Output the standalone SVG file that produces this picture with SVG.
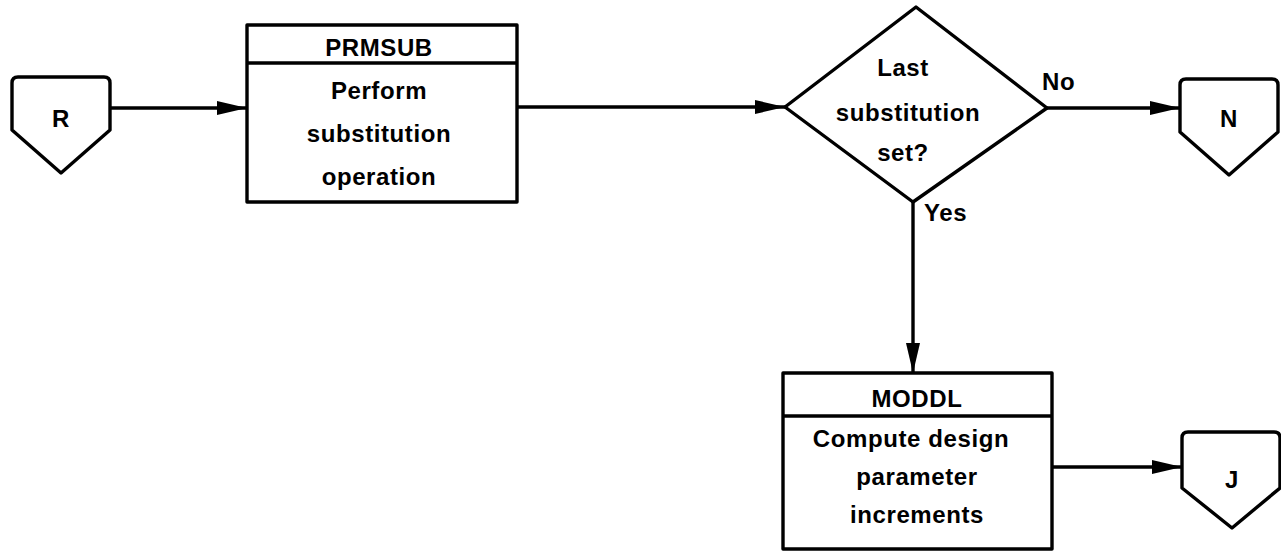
<svg xmlns="http://www.w3.org/2000/svg" width="1281" height="553" viewBox="0 0 1281 553">
<style>
.shape{fill:#fff;stroke:#000;stroke-width:3.4;stroke-linejoin:round}
.line{fill:none;stroke:#000;stroke-width:3.4}
.t{font-family:"Liberation Sans",Arial,sans-serif;font-weight:bold;font-size:24px;letter-spacing:0.6px;fill:#000;text-anchor:middle}
.l{font-family:"Liberation Sans",Arial,sans-serif;font-weight:bold;font-size:24px;letter-spacing:0.6px;fill:#000}
</style>
<defs>
<marker id="arr" viewBox="0 0 30 14" refX="30" refY="7" markerWidth="30" markerHeight="14" markerUnits="userSpaceOnUse" orient="auto">
<path d="M0,0 L30,7 L0,14 Z" fill="#000"/>
</marker>
</defs>
<rect width="1281" height="553" fill="#fff"/>
<g id="connectors">
<line class="line" x1="110" y1="108" x2="247" y2="108" marker-end="url(#arr)"/>
<line class="line" x1="517" y1="107" x2="785" y2="107" marker-end="url(#arr)"/>
<line class="line" x1="1047" y1="108" x2="1180" y2="108" marker-end="url(#arr)"/>
<line class="line" x1="913" y1="202" x2="913" y2="373" marker-end="url(#arr)"/>
<line class="line" x1="1052" y1="467" x2="1182" y2="467" marker-end="url(#arr)"/>
<text class="l" x="1042" y="90">No</text>
<text class="l" x="924" y="221">Yes</text>
</g>
<g id="node-R">
<path class="shape" d="M18,77 L104,77 Q110,77 110,83 L110,130 L61,173 L12,130 L12,83 Q12,77 18,77 Z"/>
<text class="t" x="61" y="127">R</text>
</g>
<g id="node-PRMSUB">
<rect class="shape" x="247" y="25" width="270" height="177"/>
<line class="line" x1="247" y1="63" x2="517" y2="63"/>
<text class="t" x="379" y="56">PRMSUB</text>
<text class="t" x="379" y="99">Perform</text>
<text class="t" x="379" y="142">substitution</text>
<text class="t" x="379" y="185">operation</text>
</g>
<g id="node-decision">
<polygon class="shape" points="916,7 1047,108 913,202 785,107"/>
<text class="t" x="903" y="76">Last</text>
<text class="t" x="908" y="121">substitution</text>
<text class="t" x="903" y="161">set?</text>
</g>
<g id="node-N">
<path class="shape" d="M1186,79 L1272,79 Q1278,79 1278,85 L1278,132 L1229,175 L1180,132 L1180,85 Q1180,79 1186,79 Z"/>
<text class="t" x="1229" y="127">N</text>
</g>
<g id="node-MODDL">
<rect class="shape" x="783" y="373" width="269" height="176"/>
<line class="line" x1="783" y1="416" x2="1052" y2="416"/>
<text class="t" x="917" y="407">MODDL</text>
<text class="t" x="911" y="447">Compute design</text>
<text class="t" x="917" y="485">parameter</text>
<text class="t" x="917" y="523">increments</text>
</g>
<g id="node-J">
<path class="shape" d="M1188,432 L1274,432 Q1280,432 1280,438 L1280,488 L1232,528 L1182,488 L1182,438 Q1182,432 1188,432 Z"/>
<text class="t" x="1232" y="488">J</text>
</g>
</svg>
